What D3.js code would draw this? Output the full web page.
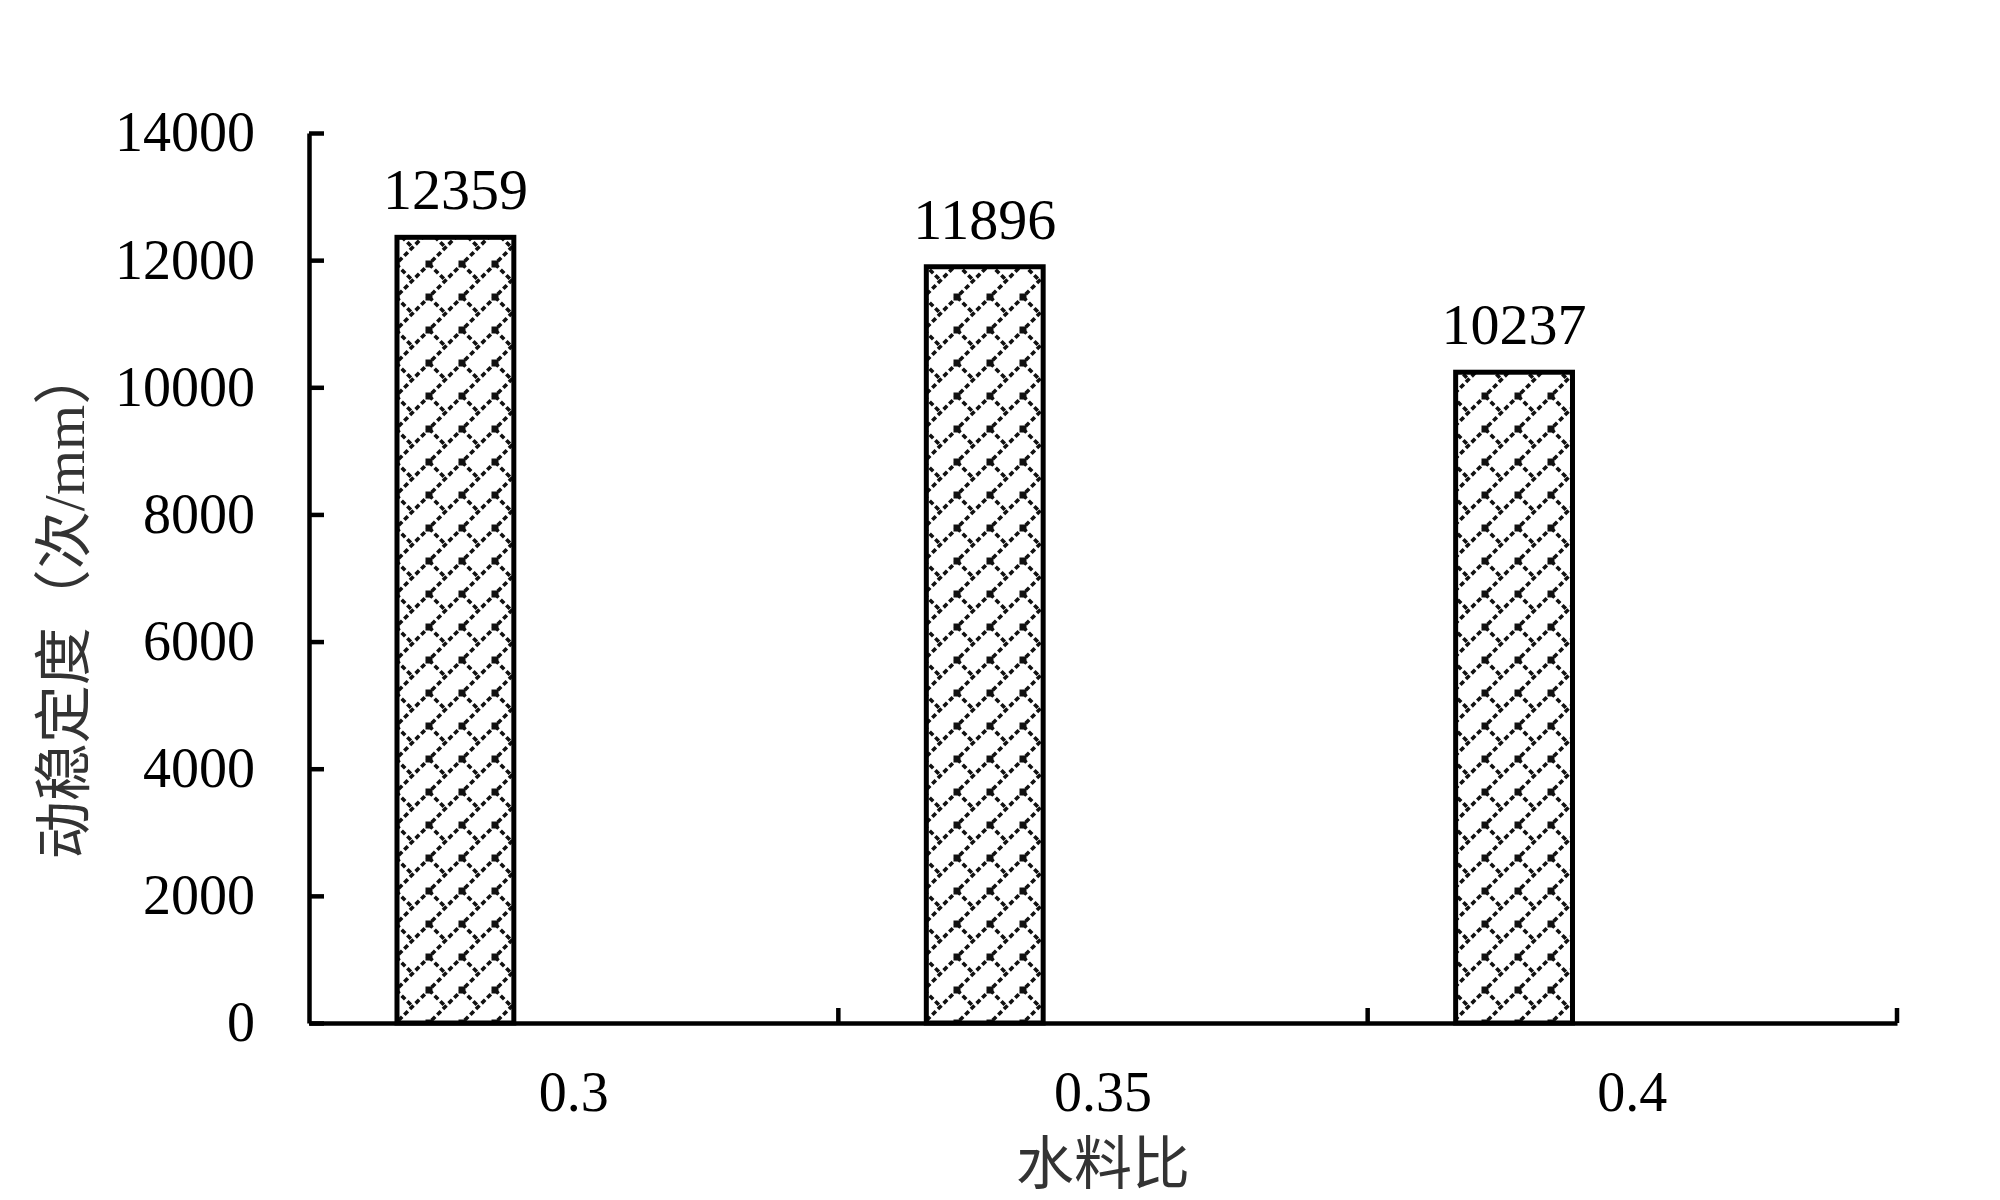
<!DOCTYPE html>
<html><head><meta charset="utf-8">
<script src="https://cdn.jsdelivr.net/npm/d3@7"></script>
<style>body{margin:0;background:#fff}</style>
</head><body>
<svg id="c" width="2000" height="1200"></svg>
<script>
const categories = ["0.3", "0.35", "0.4"];
const values = [12359, 11896, 10237];
const series = ["动稳定度", "(empty)"];
const yTicks = [0, 2000, 4000, 6000, 8000, 10000, 12000, 14000];
const yLabel = "动稳定度（次/mm）";
const xLabel = "水料比";

(function () {
const svg = d3.select("#c");
const fontFam = "'Liberation Serif','Times New Roman','Noto Sans CJK SC',serif";
const L = 309, R = 1897, T = 133, B = 1023;

const x = d3.scaleBand().domain(categories).range([L, R]).padding(0);
const inner = d3.scaleBand().domain(series).range([0, x.bandwidth()]).paddingInner(0.506).paddingOuter(0.372);
const y = d3.scaleLinear().domain([0, 14000]).range([B, T]);

// hatch pattern (shingle-like)
const defs = svg.append("defs");
const P = 33;
const pat = defs.append("pattern").attr("id", "shingle").attr("patternUnits", "userSpaceOnUse")
  .attr("width", P).attr("height", P).attr("x", 0).attr("y", 0);
pat.append("rect").attr("width", P).attr("height", P).attr("fill", "#fff");
const ps = "#111";
pat.append("path").attr("d", `M-3,${P + 3} L${P + 3},-3`).attr("stroke", ps).attr("stroke-width", 3.6).attr("stroke-dasharray", "5,3");
pat.append("path").attr("d", `M0,0 L${P / 2},${P / 2}`).attr("stroke", ps).attr("stroke-width", 3.6).attr("stroke-dasharray", "5,3");
[[0, 0], [P, 0], [0, P], [P, P]].forEach(([cx, cy]) =>
  pat.append("rect").attr("x", cx - 3.5).attr("y", cy - 3.5).attr("width", 7).attr("height", 7).attr("fill", ps));

// bars
const data = categories.map((c, i) => ({c, v: values[i]}));
svg.append("g").selectAll("rect").data(data).join("rect")
  .attr("x", d => x(d.c) + inner(series[0]))
  .attr("y", d => y(d.v))
  .attr("width", inner.bandwidth())
  .attr("height", d => y(0) - y(d.v))
  .attr("fill", "url(#shingle)")
  .attr("stroke", "#000").attr("stroke-width", 5);

// value labels
svg.append("g").selectAll("text").data(data).join("text")
  .attr("x", d => x(d.c) + inner(series[0]) + inner.bandwidth() / 2)
  .attr("y", d => y(d.v) - 28)
  .attr("text-anchor", "middle")
  .attr("font-family", fontFam).attr("font-size", 58)
  .text(d => d.v);

// y axis
const yAxis = svg.append("g").attr("transform", `translate(${L},0)`)
  .call(d3.axisLeft(y).tickValues(yTicks).tickSizeInner(-15).tickSizeOuter(0).tickPadding(54).tickFormat(d3.format("d")));
yAxis.select(".domain").attr("stroke", "#000").attr("stroke-width", 4.5);
yAxis.selectAll(".tick line").attr("stroke", "#000").attr("stroke-width", 4.5);
yAxis.selectAll(".tick text").attr("font-family", fontFam).attr("font-size", 56).attr("fill", "#000");

// x axis
const xAxis = svg.append("g").attr("transform", `translate(0,${B})`)
  .call(d3.axisBottom(x).tickSize(0).tickPadding(48));
xAxis.select(".domain").attr("stroke", "#000").attr("stroke-width", 4.5);
xAxis.selectAll(".tick text").attr("font-family", fontFam).attr("font-size", 56).attr("fill", "#000");
const bounds = categories.map(c => x(c)).concat([x.range()[1]]).slice(1);
xAxis.append("g").selectAll("line").data(bounds).join("line")
  .attr("x1", d => d).attr("x2", d => d).attr("y1", 0).attr("y2", -15)
  .attr("stroke", "#000").attr("stroke-width", 4.5);

// axis titles
svg.append("text")
  .attr("transform", `translate(64,603) rotate(-90)`)
  .attr("text-anchor", "middle").attr("dominant-baseline", "central")
  .attr("font-family", fontFam).attr("font-size", 58).attr("fill", "#333")
  .text(yLabel);
svg.append("text")
  .attr("x", (L + R) / 2).attr("y", 1184)
  .attr("text-anchor", "middle")
  .attr("font-family", fontFam).attr("font-size", 58).attr("fill", "#333")
  .text(xLabel);
})();
</script>
</body></html>
